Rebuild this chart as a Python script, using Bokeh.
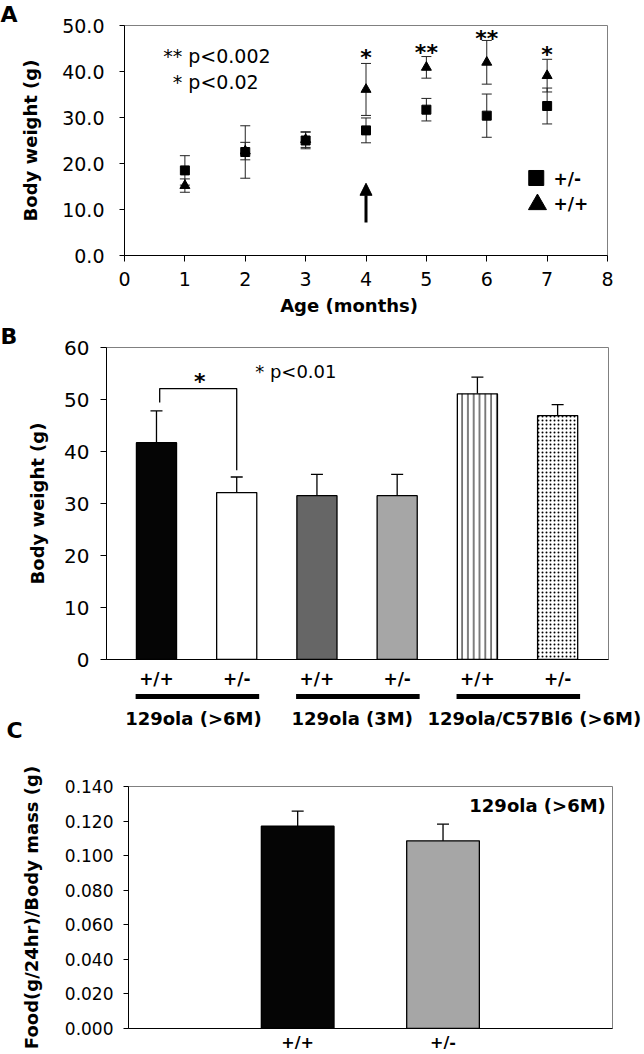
from bokeh.plotting import figure
from bokeh.models import (Range1d, FixedTicker, PrintfTickFormatter, Whisker, TeeHead,
                          ColumnDataSource, Label, Arrow, NormalHead)
from bokeh.layouts import column
from bokeh.embed import file_html
from bokeh.resources import INLINE
from bokeh.core.properties import value

FONT = "DejaVu Sans"

# ---------------- Panel A data ----------------
months = [1, 2, 3, 4, 5, 6, 7]
het_mean = [18.5, 22.5, 25.0, 27.2, 31.7, 30.4, 32.5]
het_err = [3.2, 5.7, 1.8, 2.7, 2.45, 4.7, 3.9]
wt_mean = [15.2, 22.7, 25.2, 36.1, 40.9, 42.0, 39.1]
wt_err = [1.45, 1.9, 1.7, 5.65, 2.35, 4.75, 3.55]
sig_months = [4, 5, 6, 7]
sig_marks = ["*", "**", "**", "*"]
sig_y = [43.9, 45.1, 48.0, 44.6]
a_xticks = [0, 1, 2, 3, 4, 5, 6, 7, 8]
a_yticks = [0, 10, 20, 30, 40, 50]
arrow_month = 4
arrow_from = 7.2
arrow_to = 15.7
a_notes = ["** p<0.002", "* p<0.02"]
a_legend = ["+/-", "+/+"]

# ---------------- Panel B data ----------------
b_pos = [1, 2, 3, 4, 5, 6]
b_geno = ["+/+", "+/-", "+/+", "+/-", "+/+", "+/-"]
b_mean = [41.7, 32.1, 31.5, 31.5, 51.1, 46.9]
b_err = [6.1, 3.0, 4.1, 4.1, 3.2, 2.1]
b_groups = ["129ola (>6M)", "129ola (3M)", "129ola/C57Bl6 (>6M)"]
b_yticks = [0, 10, 20, 30, 40, 50, 60]
b_note = "* p<0.01"

# ---------------- Panel C data ----------------
c_pos = [1, 2]
c_geno = ["+/+", "+/-"]
c_mean = [0.117, 0.1086]
c_err = [0.0088, 0.0096]
c_yticks = [0.0, 0.02, 0.04, 0.06, 0.08, 0.10, 0.12, 0.14]
c_note = "129ola (>6M)"

W = 644


def base_fig(h, xr, yr, left, right, top, bottom):
    p = figure(width=W, height=h, x_range=xr, y_range=yr, output_backend="svg",
               toolbar_location=None, min_border_left=left, min_border_right=right,
               min_border_top=top, min_border_bottom=bottom)
    p.frame_align = False
    p.grid.visible = False
    p.outline_line_color = "#808080"
    p.outline_line_width = 1
    p.background_fill_color = "white"
    p.border_fill_color = "white"
    return p


def strip_fig(h, xr):
    p = figure(width=W, height=h, x_range=xr, y_range=Range1d(h, 0),
               output_backend="svg", toolbar_location=None, x_axis_location=None,
               y_axis_location=None, min_border_left=0, min_border_right=0,
               min_border_top=0, min_border_bottom=0)
    p.frame_align = False
    p.grid.visible = False
    p.outline_line_color = None
    return p


def style_axes(p, tick_font_size):
    for ax in (p.xaxis[0], p.yaxis[0]):
        ax.axis_line_color = "black"
        ax.axis_line_width = 1
        ax.major_tick_line_color = "black"
        ax.minor_tick_line_color = None
        ax.major_tick_in = 0
        ax.major_label_text_font = FONT
        ax.major_label_text_color = "black"
        ax.axis_label_text_font = FONT
        ax.axis_label_text_font_style = "bold"
        ax.axis_label_text_font_size = "18px"
        ax.axis_label_text_color = "black"
    p.yaxis[0].major_label_text_font_size = tick_font_size


def panel_letter(p, letter, left):
    p.title.text = letter
    p.title.text_font = FONT
    p.title.text_font_style = "bold"
    p.title.text_font_size = "22px"
    p.title.text_color = "black"
    p.title.align = "left"
    p.title.vertical_align = "bottom"
    p.title.offset = -left
    p.title.standoff = -3


def txt(p, x, y, text, size, bold=True, align="center", baseline="middle", yoff=0):
    p.text(x=x, y=y, text=text, text_font=value(FONT),
           text_font_style="bold" if bold else "normal", text_font_size=size,
           text_align=align, text_baseline=baseline, y_offset=yoff, text_color="black")


# ================= Panel A =================
A_LEFT, A_FW = 124, 483
pA = base_fig(293, Range1d(0, 8), Range1d(0, 50), A_LEFT, W - A_LEFT - A_FW, 25, 38)
style_axes(pA, "19px")
panel_letter(pA, "A", A_LEFT)
pA.xaxis.ticker = FixedTicker(ticks=a_xticks)
pA.xaxis.major_label_text_font_size = "19px"
pA.xaxis.major_tick_out = 6
pA.xaxis.major_label_standoff = 10
pA.yaxis.ticker = FixedTicker(ticks=a_yticks)
pA.yaxis.formatter = PrintfTickFormatter(format="%.1f")
pA.yaxis.major_tick_out = 5
pA.yaxis.major_label_standoff = 15
pA.yaxis.axis_label = "Body weight (g)"
pA.yaxis.axis_label_standoff = 18

src_het = ColumnDataSource(dict(x=months, y=het_mean,
                                lo=[m - e for m, e in zip(het_mean, het_err)],
                                hi=[m + e for m, e in zip(het_mean, het_err)]))
src_wt = ColumnDataSource(dict(x=months, y=wt_mean,
                               lo=[m - e for m, e in zip(wt_mean, wt_err)],
                               hi=[m + e for m, e in zip(wt_mean, wt_err)]))
for src in (src_het, src_wt):
    pA.add_layout(Whisker(source=src, base="x", upper="hi", lower="lo",
                          line_color="#222222", line_width=1,
                          upper_head=TeeHead(size=10, line_color="#222222", line_width=1),
                          lower_head=TeeHead(size=10, line_color="#222222", line_width=1)))
pA.scatter("x", "y", source=src_het, marker="square", size=9, color="black")
pA.scatter("x", "y", source=src_wt, marker="triangle", size=10, color="black")

txt(pA, sig_months, sig_y, sig_marks, "22px", yoff=4)
pA.add_layout(Label(x=0.64, y=43.4, text=a_notes[0], text_font=FONT, text_font_size="19px",
                    text_align="left", text_baseline="middle", text_color="black"))
pA.add_layout(Label(x=0.80, y=37.7, text=a_notes[1], text_font=FONT, text_font_size="19px",
                    text_align="left", text_baseline="middle", text_color="black"))

pA.add_layout(Arrow(end=NormalHead(size=12, fill_color="black", line_color="black"),
                    x_start=arrow_month, y_start=arrow_from, x_end=arrow_month, y_end=arrow_to,
                    line_width=3, line_color="black"))

# legend key
pA.scatter(x=[6.82], y=[16.85], marker="square", size=15, color="black")
pA.scatter(x=[6.84], y=[11.1], marker="triangle", size=18, color="black")
txt(pA, [7.105, 7.105], [16.7, 11.3], a_legend, "17px", align="left")

# ---- strip under A: x-axis title of panel A ----
pxA = A_FW / 8.0
sAB_lo = 0 - A_LEFT / pxA
pAB = strip_fig(25, Range1d(sAB_lo, sAB_lo + W / pxA))
txt(pAB, [3.72], [1], ["Age (months)"], "18px", baseline="top")

# ================= Panel B =================
B_LEFT, B_FW = 106, 502
b_lo, b_hi = 0.377, 6.634
pB = base_fig(373, Range1d(b_lo, b_hi), Range1d(0, 60), B_LEFT, W - B_LEFT - B_FW, 29, 30)
style_axes(pB, "20px")
panel_letter(pB, "B", B_LEFT)
pB.yaxis.ticker = FixedTicker(ticks=b_yticks)
pB.yaxis.major_tick_out = 6
pB.yaxis.major_label_standoff = 11
pB.yaxis.axis_label = "Body weight (g)"
pB.yaxis.axis_label_standoff = 13
pB.xaxis.ticker = FixedTicker(ticks=b_pos)
pB.xaxis.major_label_overrides = dict(zip(b_pos, b_geno))
pB.xaxis.major_tick_out = 0
pB.xaxis.major_tick_line_color = None
pB.xaxis.major_label_text_font_size = "17px"
pB.xaxis.major_label_text_font_style = "bold"
pB.xaxis.major_label_standoff = 9

b_fill = ["#050505", "#ffffff", "#666666", "#a6a6a6", "#ffffff", "#ffffff"]
b_hatch = [" ", " ", " ", " ", "|", "."]
b_hscale = [6, 6, 6, 6, 5.8, 4]
srcB = ColumnDataSource(dict(x=b_pos, top=b_mean, fill=b_fill, hatch=b_hatch, hs=b_hscale,
                             hi=[m + e for m, e in zip(b_mean, b_err)]))
pB.vbar(x="x", top="top", bottom=0, width=0.5, source=srcB, fill_color="fill",
        line_color="black", line_width=1.3, hatch_pattern="hatch", hatch_color="black",
        hatch_scale="hs", hatch_weight=1)
pB.add_layout(Whisker(source=srcB, base="x", upper="hi", lower="top", line_color="black",
                      line_width=1.3, lower_head=None,
                      upper_head=TeeHead(size=12, line_color="black", line_width=1.3)))

bracket_x = [1.04, 1.04, 2.0, 2.0]
bracket_y = [49.4, 52.1, 52.1, 36.4]
pB.line(x=bracket_x, y=bracket_y, line_color="black", line_width=1.3)
txt(pB, [1.54], [54.3], ["*"], "22px", yoff=4)
pB.add_layout(Label(x=2.23, y=55.3, text=b_note, text_font=FONT, text_font_size="18px",
                    text_align="left", text_baseline="middle", text_color="black"))

# ---- strip under B: group bars, group names, panel letter C ----
pxB = B_FW / (b_hi - b_lo)
s_lo = b_lo - B_LEFT / pxB
pS = strip_fig(54, Range1d(s_lo, s_lo + W / pxB))
g_start = [p - 0.26 for p in b_pos[0::2]]
g_end = [p + 0.28 for p in b_pos[1::2]]
pS.segment(x0=g_start, x1=g_end, y0=[5, 5, 5], y1=[5, 5, 5], line_color="black",
           line_width=5, line_cap="butt")
group_label_x = [1.46, 3.44, 5.71]
txt(pS, group_label_x, [27, 27, 27], b_groups, "18px")
txt(pS, [s_lo + 6 / pxB], [39], ["C"], "22px", align="left", baseline="middle")

# ================= Panel C =================
C_LEFT, C_FW = 128, 484
pC = base_fig(309, Range1d(-0.164, 3.166), Range1d(0, 0.14), C_LEFT, W - C_LEFT - C_FW, 41, 23)
style_axes(pC, "17px")
pC.yaxis.ticker = FixedTicker(ticks=c_yticks)
pC.yaxis.formatter = PrintfTickFormatter(format="%.3f")
pC.yaxis.major_tick_out = 5
pC.yaxis.major_label_standoff = 10
pC.yaxis.axis_label = "Food(g/24hr)/Body mass (g)"
pC.yaxis.axis_label_standoff = 20
pC.xaxis.ticker = FixedTicker(ticks=c_pos)
pC.xaxis.major_label_overrides = dict(zip(c_pos, c_geno))
pC.xaxis.major_tick_out = 0
pC.xaxis.major_tick_line_color = None
pC.xaxis.major_label_text_font_size = "16px"
pC.xaxis.major_label_text_font_style = "bold"
pC.xaxis.major_label_standoff = 4

srcC = ColumnDataSource(dict(x=c_pos, top=c_mean, fill=["#050505", "#a6a6a6"],
                             lo=[m - e for m, e in zip(c_mean, c_err)],
                             hi=[m + e for m, e in zip(c_mean, c_err)]))
pC.vbar(x="x", top="top", bottom=0, width=0.5, source=srcC, fill_color="fill",
        line_color="black", line_width=1.3)
pC.add_layout(Whisker(source=srcC, base="x", upper="hi", lower="lo", line_color="black",
                      line_width=1.3,
                      upper_head=TeeHead(size=12, line_color="black", line_width=1.3),
                      lower_head=TeeHead(size=12, line_color="black", line_width=1.3)))
pC.add_layout(Label(x=3.12, y=0.129, text=c_note, text_font=FONT, text_font_style="bold",
                    text_font_size="18px", text_align="right", text_baseline="middle",
                    text_color="black"))

layout = column(pA, pAB, pB, pS, pC, spacing=0)
open("out.html", "w").write(file_html(layout, INLINE, title="Body weight"))
